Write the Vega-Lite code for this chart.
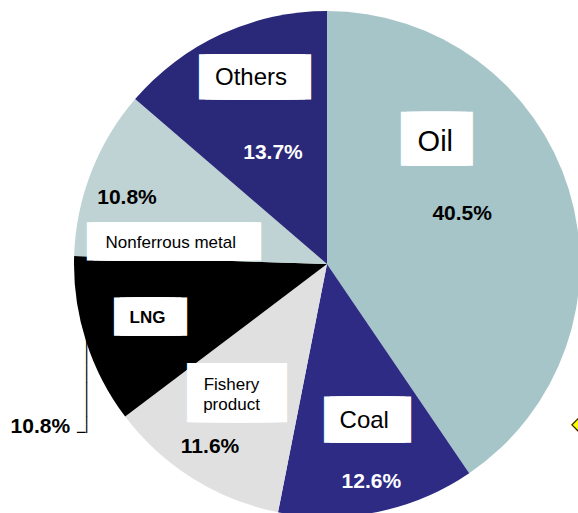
{
  "$schema": "https://vega.github.io/schema/vega-lite/v6.json",
  "width": 502,
  "height": 498,
  "autosize": {"type": "none"},
  "padding": {"left": 76, "top": 15, "right": 0, "bottom": 0},
  "background": "white",
  "config": {"view": {"stroke": null}},
  "data": {
    "values": [
      {"name": "Oil", "share": 0.405, "order": 1},
      {"name": "Coal", "share": 0.126, "order": 2},
      {"name": "Fishery product", "share": 0.116, "order": 3},
      {"name": "LNG", "share": 0.108, "order": 4},
      {"name": "Nonferrous metal", "share": 0.108, "order": 5},
      {"name": "Others", "share": 0.137, "order": 6}
    ]
  },
  "encoding": {
    "theta": {"field": "share", "type": "quantitative", "stack": true, "scale": {"domain": [0, 1]}},
    "order": {"field": "order", "type": "quantitative"}
  },
  "layer": [
    {
      "mark": {"type": "arc", "radius": 253},
      "encoding": {
        "color": {
          "field": "name", "type": "nominal", "legend": null,
          "scale": {
            "domain": ["Oil", "Coal", "Fishery product", "LNG", "Nonferrous metal", "Others"],
            "range": ["#a6c5c8", "#2d2b84", "#e0e0e0", "#000000", "#bfd3d4", "#2a2878"]
          }
        }
      }
    },
    {
      "mark": {"type": "text", "font": "DejaVu Sans Mono", "fontSize": 9.75, "color": "white", "stroke": "white", "strokeWidth": 42.6, "strokeJoin": "miter", "radius": 166.5, "align": "center", "baseline": "middle"},
      "encoding": {
        "theta": {"field": "share", "type": "quantitative", "stack": true, "bandPosition": 0.283},
        "text": {"condition": {"test": "datum.name === 'Oil'", "value": "█████"}, "value": ""}
      }
    },
    {
      "mark": {"type": "text", "font": "DejaVu Sans Mono", "fontSize": 9.64, "color": "white", "stroke": "white", "strokeWidth": 34.8, "strokeJoin": "miter", "radius": 161.2, "align": "center", "baseline": "middle"},
      "encoding": {
        "theta": {"field": "share", "type": "quantitative", "stack": true, "bandPosition": 0.433},
        "text": {"condition": {"test": "datum.name === 'Coal'", "value": "█████████"}, "value": ""}
      }
    },
    {
      "mark": {"type": "text", "font": "DejaVu Sans Mono", "fontSize": 9.64, "color": "white", "stroke": "white", "strokeWidth": 47.8, "strokeJoin": "miter", "radius": 156.9, "align": "center", "baseline": "middle"},
      "encoding": {
        "theta": {"field": "share", "type": "quantitative", "stack": true, "bandPosition": 0.571},
        "text": {"condition": {"test": "datum.name === 'Fishery product'", "value": "█████████"}, "value": ""}
      }
    },
    {
      "mark": {"type": "text", "font": "DejaVu Sans Mono", "fontSize": 9.58, "color": "white", "stroke": "white", "strokeWidth": 26.85, "strokeJoin": "miter", "radius": 184.3, "align": "center", "baseline": "middle"},
      "encoding": {
        "theta": {"field": "share", "type": "quantitative", "stack": true, "bandPosition": 0.524},
        "text": {"condition": {"test": "datum.name === 'LNG'", "value": "████████"}, "value": ""}
      }
    },
    {
      "mark": {"type": "text", "font": "DejaVu Sans Mono", "fontSize": 10.24, "color": "white", "stroke": "white", "strokeWidth": 26.1, "strokeJoin": "miter", "radius": 154.6, "align": "center", "baseline": "middle"},
      "encoding": {
        "theta": {"field": "share", "type": "quantitative", "stack": true, "bandPosition": 0.164},
        "text": {"condition": {"test": "datum.name === 'Nonferrous metal'", "value": "████████████████████████"}, "value": ""}
      }
    },
    {
      "mark": {"type": "text", "font": "DejaVu Sans Mono", "fontSize": 10.06, "color": "white", "stroke": "white", "strokeWidth": 33.3, "strokeJoin": "miter", "radius": 200.8, "align": "center", "baseline": "middle"},
      "encoding": {
        "theta": {"field": "share", "type": "quantitative", "stack": true, "bandPosition": 0.574},
        "text": {"condition": {"test": "datum.name === 'Others'", "value": "█████████████"}, "value": ""}
      }
    },
    {
      "mark": {"type": "text", "font": "Liberation Sans", "fontSize": 29, "color": "black", "radius": 166.5, "align": "center", "baseline": "middle", "dx": -1.5, "dy": 3.5},
      "encoding": {
        "theta": {"field": "share", "type": "quantitative", "stack": true, "bandPosition": 0.283},
        "text": {"condition": {"test": "datum.name === 'Oil'", "field": "name"}, "value": ""}
      }
    },
    {
      "mark": {"type": "text", "font": "Liberation Sans", "fontSize": 24, "color": "black", "radius": 161.2, "align": "center", "baseline": "middle", "dx": -3.3, "dy": 1.4},
      "encoding": {
        "theta": {"field": "share", "type": "quantitative", "stack": true, "bandPosition": 0.433},
        "text": {"condition": {"test": "datum.name === 'Coal'", "field": "name"}, "value": ""}
      }
    },
    {
      "mark": {"type": "text", "font": "Liberation Sans", "fontSize": 17, "lineHeight": 20.5, "color": "black", "radius": 156.9, "align": "center", "baseline": "middle", "dx": -5.5, "dy": -8},
      "encoding": {
        "theta": {"field": "share", "type": "quantitative", "stack": true, "bandPosition": 0.571},
        "text": {"condition": {"test": "datum.name === 'Fishery product'", "value": ["Fishery", "product"]}, "value": ""}
      }
    },
    {
      "mark": {"type": "text", "font": "Liberation Sans", "fontSize": 17, "fontWeight": "bold", "color": "black", "radius": 184.3, "align": "center", "baseline": "middle", "dx": -3, "dy": 1.2},
      "encoding": {
        "theta": {"field": "share", "type": "quantitative", "stack": true, "bandPosition": 0.524},
        "text": {"condition": {"test": "datum.name === 'LNG'", "field": "name"}, "value": ""}
      }
    },
    {
      "mark": {"type": "text", "font": "Liberation Sans", "fontSize": 17, "color": "black", "radius": 154.6, "align": "center", "baseline": "middle", "dx": -3.2, "dy": 0.7},
      "encoding": {
        "theta": {"field": "share", "type": "quantitative", "stack": true, "bandPosition": 0.164},
        "text": {"condition": {"test": "datum.name === 'Nonferrous metal'", "field": "name"}, "value": ""}
      }
    },
    {
      "mark": {"type": "text", "font": "Liberation Sans", "fontSize": 24, "color": "black", "radius": 200.8, "align": "center", "baseline": "middle", "dx": -4, "dy": 1.6},
      "encoding": {
        "theta": {"field": "share", "type": "quantitative", "stack": true, "bandPosition": 0.574},
        "text": {"condition": {"test": "datum.name === 'Others'", "field": "name"}, "value": ""}
      }
    },
    {
      "mark": {"type": "text", "font": "Liberation Sans", "fontSize": 21, "fontWeight": "bold", "color": "black", "radius": 144.4, "align": "center", "baseline": "middle", "dy": 1.2},
      "encoding": {
        "theta": {"field": "share", "type": "quantitative", "stack": true, "bandPosition": 0.476},
        "text": {"condition": {"test": "datum.name === 'Oil'", "field": "share", "type": "quantitative", "format": ".1%"}, "value": ""}
      }
    },
    {
      "mark": {"type": "text", "font": "Liberation Sans", "fontSize": 21, "fontWeight": "bold", "color": "white", "radius": 221, "align": "center", "baseline": "middle", "dy": 1.2},
      "encoding": {
        "theta": {"field": "share", "type": "quantitative", "stack": true, "bandPosition": 0.499},
        "text": {"condition": {"test": "datum.name === 'Coal'", "field": "share", "type": "quantitative", "format": ".1%"}, "value": ""}
      }
    },
    {
      "mark": {"type": "text", "font": "Liberation Sans", "fontSize": 21, "fontWeight": "bold", "color": "black", "radius": 216.2, "align": "center", "baseline": "middle", "dy": 1.2},
      "encoding": {
        "theta": {"field": "share", "type": "quantitative", "stack": true, "bandPosition": 0.517},
        "text": {"condition": {"test": "datum.name === 'Fishery product'", "field": "share", "type": "quantitative", "format": ".1%"}, "value": ""}
      }
    },
    {
      "mark": {"type": "text", "font": "Liberation Sans", "fontSize": 21, "fontWeight": "bold", "color": "black", "radius": 329.2, "align": "center", "baseline": "middle", "dy": 1.2},
      "encoding": {
        "theta": {"field": "share", "type": "quantitative", "stack": true, "bandPosition": 0.196},
        "text": {"condition": {"test": "datum.name === 'LNG'", "field": "share", "type": "quantitative", "format": ".1%"}, "value": ""}
      }
    },
    {
      "mark": {"type": "text", "font": "Liberation Sans", "fontSize": 21, "fontWeight": "bold", "color": "black", "radius": 211, "align": "center", "baseline": "middle", "dy": 1.2},
      "encoding": {
        "theta": {"field": "share", "type": "quantitative", "stack": true, "bandPosition": 0.432},
        "text": {"condition": {"test": "datum.name === 'Nonferrous metal'", "field": "share", "type": "quantitative", "format": ".1%"}, "value": ""}
      }
    },
    {
      "mark": {"type": "text", "font": "Liberation Sans", "fontSize": 21, "fontWeight": "bold", "color": "white", "radius": 124.6, "align": "center", "baseline": "middle", "dy": 1.2},
      "encoding": {
        "theta": {"field": "share", "type": "quantitative", "stack": true, "bandPosition": 0.479},
        "text": {"condition": {"test": "datum.name === 'Others'", "field": "share", "type": "quantitative", "format": ".1%"}, "value": ""}
      }
    },
    {
      "mark": {"type": "text", "font": "DejaVu Sans Mono", "fontSize": 14.04, "color": "#000000", "radius": 270.6, "angle": 90, "align": "center", "baseline": "middle"},
      "encoding": {
        "theta": {"field": "share", "type": "quantitative", "stack": true, "bandPosition": 0.261},
        "text": {"condition": {"test": "datum.name === 'LNG'", "value": "───────────"}, "value": ""}
      }
    },
    {
      "mark": {"type": "text", "font": "DejaVu Sans Mono", "fontSize": 14.04, "color": "#000000", "radius": 298.5, "align": "center", "baseline": "middle"},
      "encoding": {
        "theta": {"field": "share", "type": "quantitative", "stack": true, "bandPosition": 0.065},
        "text": {"condition": {"test": "datum.name === 'LNG'", "value": "─"}, "value": ""}
      }
    },
    {
      "mark": {"type": "text", "font": "DejaVu Sans", "fontSize": 16, "color": "#ffff00", "stroke": "black", "strokeWidth": 1, "radius": 297.5, "align": "center", "baseline": "middle"},
      "encoding": {
        "theta": {"field": "share", "type": "quantitative", "stack": true, "bandPosition": 0.84},
        "text": {"condition": {"test": "datum.name === 'Oil'", "value": "◆"}, "value": ""}
      }
    }
  ]
}
